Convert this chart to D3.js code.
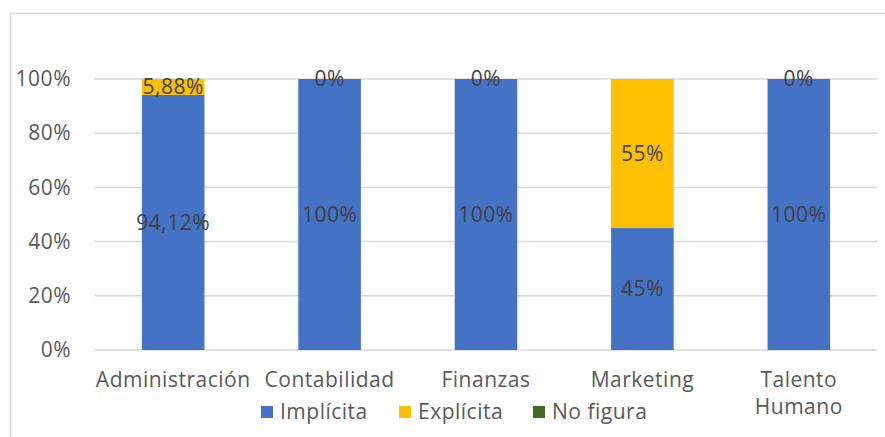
<!DOCTYPE html>
<html><head><meta charset="utf-8">
<script src="https://cdn.jsdelivr.net/npm/d3@7"></script>
<style>body{margin:0;background:#fff;}svg{display:block;font-family:"Open Sans",sans-serif;letter-spacing:0.5px;}</style>
</head><body><svg id="c" width="885" height="437"></svg>
<script>
const categories = ["Administración","Contabilidad","Finanzas","Marketing","Talento Humano"];
const seriesNames = ["Implícita","Explícita","No figura"];
const implicita = [94.12,100,100,45,100];
const explicita = [5.88,0,0,55,0];
const noFigura = [0,0,0,0,0];
const implicitaLabels = ["94,12%","100%","100%","45%","100%"];
const explicitaLabels = ["5,88%","0%","0%","55%","0%"];
const yTicks = [0,20,40,60,80,100];
const colors = ["#4472C4","#FFC000","#3F6B25"];

const FS = 21;
const svg = d3.select("#c");
const W=885,H=437;
svg.append("rect").attr("x",10.5).attr("y",13.5).attr("width",W).attr("height",H).attr("fill","#fff").attr("stroke","#d9d9d9").attr("stroke-width",1.5);

const x = d3.scaleBand().domain(categories).range([95,877]).paddingInner(0.6).paddingOuter(0.3);
const y = d3.scaleLinear().domain([0,100]).range([350,79]);

const g = svg.append("g");
g.selectAll("line.grid").data(yTicks).join("line").attr("class","grid")
 .attr("x1",95).attr("x2",877).attr("y1",d=>y(d)).attr("y2",d=>y(d))
 .attr("stroke","#d9d9d9").attr("stroke-width",1.5);

const yAxis = d3.axisLeft(y).tickValues(yTicks).tickFormat(d=>d+"%").tickSize(0).tickPadding(24);
const ya = svg.append("g").attr("transform","translate(95,0)").call(yAxis);
ya.select(".domain").remove();
ya.selectAll("text").attr("font-size",FS).attr("fill","#595959").attr("font-family","Open Sans");

const data = categories.map((c,i)=>({c, vals:[implicita[i],explicita[i],noFigura[i]]}));
const stack = d3.stack().keys([0,1,2]).value((d,k)=>d.vals[k])(data);

stack.forEach((layer,k)=>{
  svg.append("g").selectAll("rect").data(layer).join("rect")
   .attr("x",d=>x(d.data.c)).attr("width",x.bandwidth())
   .attr("y",d=>y(d[1])).attr("height",d=>y(d[0])-y(d[1]))
   .attr("fill",colors[k]);
});

const labelSets=[implicitaLabels,explicitaLabels];
labelSets.forEach((labels,k)=>{
  svg.append("g").selectAll("text").data(stack[k]).join("text")
   .attr("x",d=>x(d.data.c)+x.bandwidth()/2)
   .attr("y",d=>(y(d[0])+y(d[1]))/2)
   .attr("dy","0.35em").attr("text-anchor","middle")
   .attr("font-size",FS).attr("fill","#404040")
   .text((d,i)=>labels[i]);
});

const xAxis = d3.axisBottom(x).tickSize(0).tickPadding(0);
const xa = svg.append("g").attr("transform","translate(0,350)").call(xAxis);
xa.select(".domain").remove();
xa.selectAll("text").remove();
xa.selectAll(".tick").each(function(d){
  const t=d3.select(this).append("text").attr("text-anchor","middle").attr("font-size",FS).attr("fill","#595959").attr("font-family","Open Sans");
  const words = d==="Talento Humano"?["Talento","Humano"]:[d];
  words.forEach((w,i)=>t.append("tspan").attr("x",0).attr("y",37+i*27).text(w));
});

const legX=[261,399,533];
const leg = svg.append("g");
seriesNames.forEach((n,i)=>{
  leg.append("rect").attr("x",legX[i]).attr("y",406).attr("width",12).attr("height",12).attr("fill",colors[i]);
  leg.append("text").attr("x",legX[i]+19).attr("y",412).attr("dy","0.35em").attr("font-size",FS).attr("fill","#595959").text(n);
});
</script></body></html>
